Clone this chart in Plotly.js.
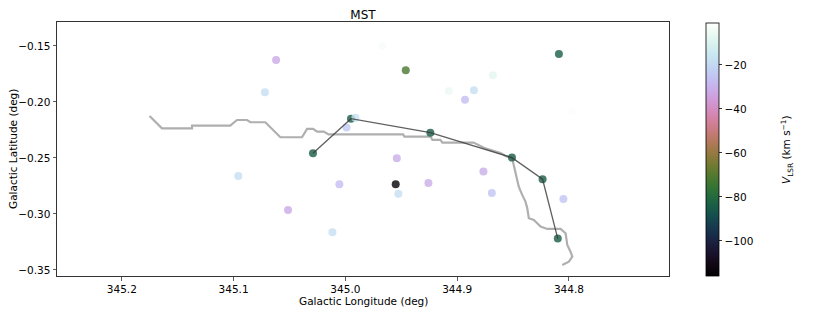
<!DOCTYPE html>
<html>
<head>
<meta charset="utf-8">
<script src="https://cdn.plot.ly/plotly-3.0.1.min.js"></script>
<style>html,body{margin:0;padding:0;background:#fff;}#chart{width:830px;height:312px;}</style>
</head>
<body>
<div id="chart"></div>
<script>
// Clump positions (Galactic lon/lat, deg) and their V_LSR (km/s)
const lon = [344.967, 345.062, 344.946, 345.072, 345.029, 344.995, 344.991, 344.999, 344.954,
             344.809, 344.868, 344.9075, 344.885, 344.893, 344.797, 344.924, 344.851,
             345.0958, 345.0054, 344.955, 344.9526, 345.0513, 345.0116,
             344.9257, 344.8765, 344.869, 344.805, 344.8236, 344.81];
const lat = [-0.150, -0.1625, -0.1717, -0.1913, -0.2458, -0.2149, -0.2140, -0.2229, -0.2503,
             -0.1571, -0.1762, -0.1902, -0.1896, -0.1980, -0.2080, -0.2274, -0.2497,
             -0.2661, -0.2735, -0.2735, -0.2819, -0.2964, -0.3164,
             -0.2723, -0.2622, -0.2813, -0.2866, -0.2690, -0.3220];
const vlsr = [-3, -32, -72, -18, -85, -85, -17, -24, -31,
              -84, -8, -6, -18, -27, -2, -85, -85,
              -18, -27, -115, -18, -32, -18,
              -31, -31, -25, -25, -85, -85];

// Minimum spanning tree path
const mstLon = [345.029, 344.995, 344.924, 344.851, 344.8236, 344.81];
const mstLat = [-0.2458, -0.2149, -0.2274, -0.2497, -0.2690, -0.3220];

// Filament spine
const spineLon = [345.1752, 345.1701, 345.1686, 345.1641, 345.1372, 345.1372, 345.1030, 345.0970, 345.0880, 345.0850,
  345.0716, 345.0582, 345.0388, 345.0343, 345.0289, 345.0253, 345.0194, 345.0150, 344.9483, 344.9472,
  344.9239, 344.9221, 344.9150, 344.9132, 344.8854, 344.8809, 344.8756, 344.8612, 344.8568, 344.8508,
  344.8493, 344.8478, 344.8463, 344.8449, 344.8418, 344.8389, 344.8373, 344.8359, 344.8314, 344.8254,
  344.8194, 344.8075, 344.8030, 344.8015, 344.7986, 344.7970, 344.8001, 344.8030, 344.8060];
const spineLat = [-0.2125, -0.2176, -0.2199, -0.2235, -0.2235, -0.2212, -0.2212, -0.2161, -0.2161, -0.2181,
  -0.2181, -0.2315, -0.2315, -0.2241, -0.2241, -0.2265, -0.2265, -0.2290, -0.2290, -0.2310,
  -0.2310, -0.2339, -0.2339, -0.2363, -0.2363, -0.2388, -0.2411, -0.2455, -0.2482, -0.2503,
  -0.2563, -0.2622, -0.2681, -0.2756, -0.2830, -0.2890, -0.2949, -0.3038, -0.3054, -0.3113,
  -0.3134, -0.3134, -0.3172, -0.3277, -0.3337, -0.3381, -0.3426, -0.3440, -0.3455];

const cbTicks = [-100, -80, -60, -40, -20];
const xTicks = [345.2, 345.1, 345.0, 344.9, 344.8];
const yTicks = [-0.35, -0.30, -0.25, -0.20, -0.15];

// matplotlib "cubehelix" colormap
function cubehelix(x) {
  const s = 0.5, r = -1.5, h = 1.0;
  const phi = 2 * Math.PI * (s / 3 + r * x);
  const a = h * x * (1 - x) / 2;
  const c = Math.cos(phi), sn = Math.sin(phi);
  const R = x + a * (-0.14861 * c + 1.78277 * sn);
  const G = x + a * (-0.29227 * c - 0.90649 * sn);
  const B = x + a * (1.97294 * c);
  const cl = v => Math.round(Math.max(0, Math.min(1, v)) * 255);
  return `rgb(${cl(R)},${cl(G)},${cl(B)})`;
}
const colorscale = [];
for (let i = 0; i <= 32; i++) { const t = i / 32; colorscale.push([t, cubehelix(t)]); }

const font = {family: 'DejaVu Sans, sans-serif', size: 10.5, color: '#000'};
const minus = v => (v < 0 ? '\u2212' : '') + Math.abs(v);

const traces = [
  {x: spineLon, y: spineLat, mode: 'lines', type: 'scatter',
   line: {color: 'rgb(175,175,175)', width: 2.2}, hoverinfo: 'skip', showlegend: false},
  {x: lon, y: lat, mode: 'markers', type: 'scatter', showlegend: false,
   marker: {size: 8, color: vlsr, colorscale: colorscale, cmin: -116, cmax: -1, opacity: 0.8,
     line: {width: 0},
     colorbar: {x: 1.0605, xanchor: 'left', y: 0.996, yanchor: 'top', len: 0.996, lenmode: 'fraction',
       thickness: 13, outlinewidth: 0.8, outlinecolor: '#000', ticks: 'outside', ticklen: 3.5, tickwidth: 0.8,
       tickcolor: '#000', tickvals: cbTicks, ticktext: cbTicks.map(minus),
       tickfont: font, xpad: 0, ypad: 0}}},
  {x: mstLon, y: mstLat, mode: 'lines', type: 'scatter', showlegend: false,
   line: {color: 'rgba(55,55,55,0.8)', width: 1.3}, hoverinfo: 'skip'}
];

const axisCommon = {showgrid: false, zeroline: false, showline: true, mirror: true, linecolor: '#333',
  linewidth: 1, ticks: 'outside', ticklen: 3.5, tickwidth: 0.8, tickcolor: '#333', tickfont: font};

const layout = {
  width: 830, height: 312,
  margin: {l: 57, r: 161, t: 22, b: 36},
  paper_bgcolor: '#fff', plot_bgcolor: '#fff',
  font: font,
  title: {text: 'MST', font: {family: 'DejaVu Sans, sans-serif', size: 12, color: '#000'},
    x: 0.5, xref: 'paper', xanchor: 'center', y: 1, yref: 'paper', yanchor: 'bottom', pad: {b: 3}},
  xaxis: Object.assign({}, axisCommon, {range: [345.258, 344.7105], tickvals: xTicks,
    ticktext: xTicks.map(v => v.toFixed(1))}),
  yaxis: Object.assign({}, axisCommon, {range: [-0.3554, -0.1286], tickvals: yTicks,
    ticktext: yTicks.map(v => '\u2212' + Math.abs(v).toFixed(2))}),
  annotations: [
    {text: 'Galactic Longitude (deg)', xref: 'paper', yref: 'paper', x: 0.5, y: -0.098,
     xanchor: 'center', yanchor: 'middle', showarrow: false, font: font},
    {text: 'Galactic Latitude (deg)', textangle: -90, xref: 'paper', yref: 'paper', x: -0.0719, y: 0.5,
     xanchor: 'center', yanchor: 'middle', showarrow: false, font: font},
    {text: '<i>V</i><sub>LSR</sub> (km s<sup>\u22121</sup>)', textangle: -90,
     xref: 'paper', yref: 'paper', x: 1.1928, y: 0.5, xanchor: 'center', yanchor: 'middle',
     showarrow: false, font: font}],
  showlegend: false
};

Plotly.newPlot('chart', traces, layout, {staticPlot: true, displayModeBar: false});
</script>
</body>
</html>
